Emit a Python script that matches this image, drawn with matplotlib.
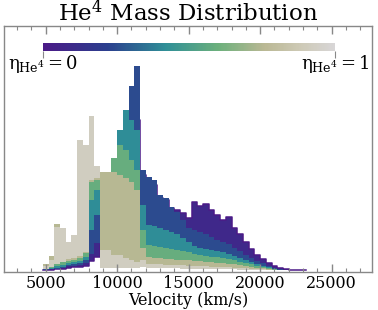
import numpy as np
import matplotlib
matplotlib.use('Agg')
import matplotlib.pyplot as plt
from matplotlib.colors import LinearSegmentedColormap, Normalize
from matplotlib.cm import ScalarMappable

plt.rcParams['font.family'] = ['DejaVu Serif']
plt.rcParams['mathtext.fontset'] = 'dejavuserif'
plt.rcParams['mathtext.default'] = 'regular'

# velocity bin edges (km/s), 400 km/s bins
vel_edges = np.arange(4800, 23201, 400)

# He4 mass per velocity bin (arbitrary units) for eta = 0, 1/6, ..., 1
eta_levels = [0, 1/6, 2/6, 3/6, 4/6, 5/6, 1]
m_eta0 = [0, 0, 1, 1, 2, 3, 3, 4, 9, 13, 25, 35, 30, 40, 55, 80, 150, 95, 88, 85,
          72, 70, 62, 60, 57, 52, 68, 64, 66, 60, 55, 50, 53, 42, 36, 28, 21, 15,
          11, 7, 4, 2, 1, 0.7, 0.3, 0]
m_eta1 = [0, 1, 1, 2, 4, 4, 5, 7, 16, 27, 35, 45, 60, 100, 130, 183, 203, 100, 93, 90,
          75, 72, 63, 58, 50, 42, 40, 38, 36, 33, 30, 28, 26, 22, 19, 15, 12, 9,
          7, 4, 2.5, 1.2, 0.6, 0.4, 0.2, 0]
m_eta2 = [1, 1, 2, 3, 5, 6, 7, 10, 40, 55, 50, 60, 100, 140, 160, 150, 140, 65, 45, 44,
          42, 40, 38, 36, 32, 28, 24, 22, 21, 20, 19, 18, 16, 14, 12, 10, 8, 6,
          4, 3, 1.5, 0.8, 0.4, 0.3, 0.1, 0]
m_eta3 = [1, 2, 4, 5, 7, 8, 9, 13, 70, 80, 70, 80, 112, 125, 120, 110, 100, 40, 25, 24,
          23, 22, 21, 20, 19, 18, 16, 15, 14, 13, 13, 12, 11, 10, 8, 7, 6, 4,
          3, 2, 1, 0.5, 0.3, 0.2, 0.1, 0]
m_eta4 = [6, 14, 46, 15, 9, 10, 12, 17, 88, 90, 98, 98, 98, 95, 92, 88, 80, 22, 13, 12,
          12, 11, 11, 10, 10, 10, 9, 9, 8, 8, 7, 7, 6, 6, 5, 4, 3, 2,
          2, 1, 0.6, 0.3, 0.2, 0.1, 0, 0]
m_eta5 = [1, 3, 6, 8, 11, 12, 14, 18, 90, 92, 20, 20, 15, 15, 12, 10, 8, 10, 6, 6,
          6, 5, 5, 5, 5, 4, 4, 4, 4, 3, 3, 3, 3, 2, 2, 2, 1, 1,
          1, 0.5, 0.3, 0.2, 0.1, 0, 0, 0]
m_eta6 = [4, 10, 43, 42, 28, 35, 130, 125, 154, 104, 2, 2, 2, 2, 2, 2, 2, 3, 2, 2,
          2, 2, 2, 2, 1, 1, 1, 1, 1, 1, 1, 1, 1, 1, 0.5, 0.5, 0.5, 0.3,
          0.3, 0.2, 0.1, 0.1, 0, 0, 0, 0]
profiles = [m_eta0, m_eta1, m_eta2, m_eta3, m_eta4, m_eta5, m_eta6]

cmap = LinearSegmentedColormap.from_list('he4', [
    (0.0, '#4b1a87'), (0.22, '#2b3f8e'), (0.42, '#2f8f97'), (0.6, '#6cb07c'),
    (0.76, '#bab894'), (0.88, '#cdc9b5'), (1.0, '#d8d6d7')])

fig = plt.figure(figsize=(3.78, 3.10), dpi=100)
ax = fig.add_axes([0.0093, 0.121, 0.976, 0.795])

def stepvals(a):
    a = np.asarray(a, dtype=float)
    return np.append(a, a[-1])

for k in range(len(profiles) - 1):
    mid = 0.5 * (eta_levels[k] + eta_levels[k + 1])
    ax.fill_between(vel_edges, stepvals(profiles[k]), stepvals(profiles[k + 1]),
                    step='post', color=cmap(mid), lw=0, zorder=1)
    if k == 0:
        ax.step(vel_edges, stepvals(profiles[0]), where='post', color=cmap(0.0),
                lw=1.1, zorder=1)

ax.set_xlim(2050, 27850)
ax.set_ylim(-2, 243)
ax.set_yticks([])
ax.set_xticks([5000, 10000, 15000, 20000, 25000])
ax.set_xticks(np.arange(3000, 28000, 1000), minor=True)
ax.tick_params(axis='x', which='both', direction='in', top=True, bottom=True,
               colors='#888888', labelcolor='black', labelsize=11.5, pad=2)
ax.tick_params(axis='x', which='major', length=5.5, width=1)
ax.tick_params(axis='x', which='minor', length=3, width=0.8)
for s in ax.spines.values():
    s.set_color('#888888')
    s.set_linewidth(1)

ax.set_xlabel('Velocity (km/s)', fontsize=11.5, labelpad=0)
ax.set_title(r'He$^4$ Mass Distribution', fontsize=16.5, pad=3)

cax = fig.add_axes([0.1138, 0.837, 0.7725, 0.024])
cb = fig.colorbar(ScalarMappable(norm=Normalize(0, 1), cmap=cmap), cax=cax,
                  orientation='horizontal', ticks=[0, 1])
cb.outline.set_visible(False)
cb.ax.set_xticklabels([r'$\eta_{\rm He^4} = 0$', r'$\eta_{\rm He^4} = 1$'])
cb.ax.tick_params(axis='x', direction='out', length=5, colors='#888888',
                  labelcolor='black', labelsize=13, pad=-3.5)

fig.savefig('out.png', dpi=100)
